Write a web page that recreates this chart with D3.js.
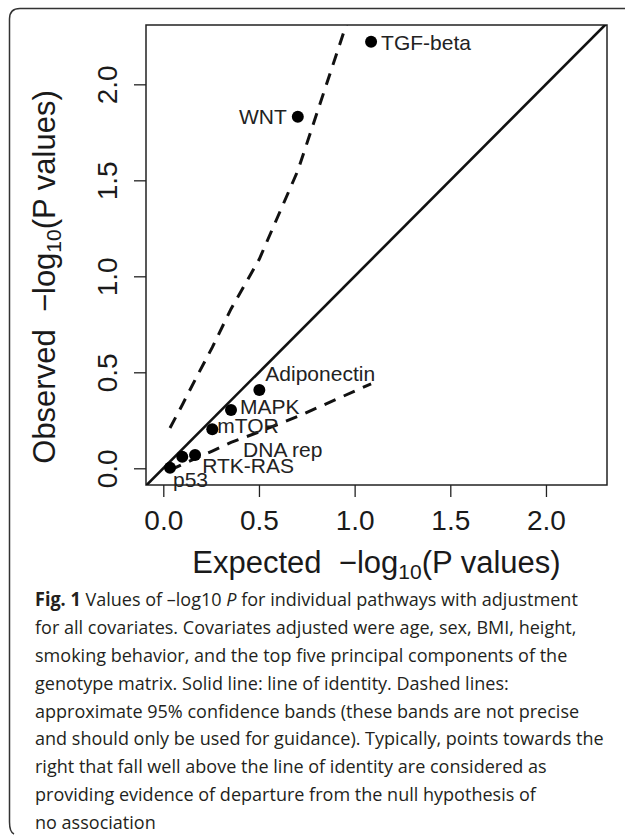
<!DOCTYPE html>
<html>
<head>
<meta charset="utf-8">
<script src="https://cdn.jsdelivr.net/npm/d3@7"></script>
<style>
  body { margin: 0; background: #fff; }
  svg { display: block; }
</style>
</head>
<body>
<svg id="chart" width="625" height="835"></svg>
<script>
// pathway QQ plot: observed vs expected -log10(P)
const pathways = ['TGF-beta', 'WNT', 'Adiponectin', 'MAPK', 'mTOR', 'DNA rep', 'RTK-RAS', 'p53']
const expected = [1.086, 0.703, 0.502, 0.354, 0.256, 0.166, 0.099, 0.035]
const observed = [2.222, 1.831, 0.408, 0.304, 0.203, 0.069, 0.060, 0.003]
const bandUpper = [2.70, 1.55, 1.09, 0.83, 0.63, 0.46, 0.33, 0.21]
const bandLower = [0.44, 0.27, 0.19, 0.135, 0.09, 0.05, 0.02, -0.01]
const ticks = [0, 0.5, 1.0, 1.5, 2.0]
const captionLines = [
  'for all covariates. Covariates adjusted were age, sex, BMI, height,',
  'smoking behavior, and the top five principal components of the',
  'genotype matrix. Solid line: line of identity. Dashed lines:',
  'approximate 95% confidence bands (these bands are not precise',
  'and should only be used for guidance). Typically, points towards the',
  'right that fall well above the line of identity are considered as',
  'providing evidence of departure from the null hypothesis of',
  'no association'
]

// label offsets from each point (px): dx, dy to baseline, anchor
const labelPlacement = {
  'TGF-beta': [10, 8, 'start'],
  'WNT': [-11, 7, 'end'],
  'Adiponectin': [6, -9, 'start'],
  'MAPK': [9, 4, 'start'],
  'mTOR': [5, 4, 'start'],
  'DNA rep': [48, 2, 'start'],
  'RTK-RAS': [20, 16, 'start'],
  'p53': [3, 19, 'start']
}

const box = { left: 146, right: 607, top: 25, bottom: 485 }
const svg = d3.select('#chart')

const x = d3.scaleLinear().domain([-0.0904, 2.319]).range([box.left, box.right])
const y = d3.scaleLinear().domain([-0.087, 2.309]).range([box.bottom, box.top])

// outer frame, open on the right
svg.append('path')
  .attr('d', 'M625,8.5 L20,8.5 Q9.5,8.5 9.5,19 L9.5,822 Q9.5,832 14,834')
  .attr('fill', 'none')
  .attr('stroke', '#333')
  .attr('stroke-width', 1.5)

svg.append('clipPath').attr('id', 'plotclip')
  .append('rect')
  .attr('x', box.left).attr('y', box.top)
  .attr('width', box.right - box.left).attr('height', box.bottom - box.top)

const axisFont = 'Liberation Sans, Arial, sans-serif'

// x axis
const xAxis = svg.append('g')
  .attr('transform', `translate(0,${box.bottom})`)
  .call(d3.axisBottom(x).tickValues(ticks).tickSize(12).tickFormat(d3.format('.1f')))
xAxis.select('.domain').remove()
xAxis.selectAll('line').attr('stroke', '#222').attr('stroke-width', 1.3)
xAxis.selectAll('text')
  .attr('y', 45).attr('dy', null)
  .attr('fill', '#1a1a1a')
  .style('font-family', axisFont).style('font-size', '28px')

// y axis, labels rotated like R
const yAxis = svg.append('g')
  .attr('transform', `translate(${box.left},0)`)
  .call(d3.axisLeft(y).tickValues(ticks).tickSize(12).tickFormat(d3.format('.1f')))
yAxis.select('.domain').remove()
yAxis.selectAll('line').attr('stroke', '#222').attr('stroke-width', 1.3)
yAxis.selectAll('text')
  .attr('x', null).attr('dy', null).attr('y', null)
  .attr('transform', 'translate(-29,0) rotate(-90)')
  .attr('text-anchor', 'middle')
  .attr('fill', '#1a1a1a')
  .style('font-family', axisFont).style('font-size', '28px')

// plot box
svg.append('rect')
  .attr('x', box.left).attr('y', box.top)
  .attr('width', box.right - box.left).attr('height', box.bottom - box.top)
  .attr('fill', 'none').attr('stroke', '#222').attr('stroke-width', 1.5)

const plot = svg.append('g').attr('clip-path', 'url(#plotclip)')

// identity line
plot.append('line')
  .attr('x1', x(-0.1)).attr('y1', y(-0.1))
  .attr('x2', x(2.4)).attr('y2', y(2.4))
  .attr('stroke', '#111').attr('stroke-width', 2.6)

// confidence bands
const band = d3.line().x(d => x(d[0])).y(d => y(d[1]))
;[bandUpper, bandLower].forEach(b => {
  const pts = expected.map((e, i) => [e, b[i]]).reverse()
  plot.append('path')
    .attr('d', band(pts))
    .attr('fill', 'none')
    .attr('stroke', '#111')
    .attr('stroke-width', 3)
    .attr('stroke-dasharray', '12,9')
})

// points
svg.append('g').selectAll('circle')
  .data(pathways)
  .join('circle')
  .attr('cx', (d, i) => x(expected[i]))
  .attr('cy', (d, i) => y(observed[i]))
  .attr('r', 6)
  .attr('fill', '#000')

// point labels
svg.append('g').selectAll('text')
  .data(pathways)
  .join('text')
  .attr('x', (d, i) => x(expected[i]) + labelPlacement[d][0])
  .attr('y', (d, i) => y(observed[i]) + labelPlacement[d][1])
  .attr('text-anchor', d => labelPlacement[d][2])
  .attr('fill', '#222')
  .style('font-family', axisFont).style('font-size', '21px')
  .text(d => d)

// axis titles (R plotmath style)
const addTitle = (sel, word) => {
  sel.append('tspan').text(word + ' \u00a0\u2212log')
  sel.append('tspan').attr('dy', 6).style('font-size', '21px').text('10')
  sel.append('tspan').attr('dy', -6).text('(P values)')
}
const xTitle = svg.append('text')
  .attr('x', (box.left + box.right) / 2).attr('y', 573)
  .attr('text-anchor', 'middle')
  .attr('fill', '#1a1a1a')
  .style('font-family', axisFont).style('font-size', '31px')
addTitle(xTitle, 'Expected')

const yTitle = svg.append('text')
  .attr('transform', 'translate(55,277) rotate(-90)')
  .attr('text-anchor', 'middle')
  .attr('fill', '#1a1a1a')
  .style('font-family', axisFont).style('font-size', '31px')
addTitle(yTitle, 'Observed')

// caption
const capFont = 'Open Sans, Noto Sans, sans-serif'
const cap = svg.append('g')
  .attr('fill', '#231f20')
  .style('font-family', capFont).style('font-size', '19px')

const first = cap.append('text').attr('x', 35).attr('y', 606)
first.append('tspan').style('font-weight', 'bold').text('Fig. 1')
first.append('tspan').text(' Values of \u2013log10 ')
first.append('tspan').style('font-style', 'italic').text('P')
first.append('tspan').text(' for individual pathways with adjustment')

cap.selectAll('text.line')
  .data(captionLines)
  .join('text')
  .attr('class', 'line')
  .attr('x', 35)
  .attr('y', (d, i) => 606 + (i + 1) * 27.9)
  .text(d => d)

// the journal face is narrower than Open Sans: squeeze so the longest line ends near x=604
const widest = d3.max(cap.selectAll('text').nodes(), n => n.getComputedTextLength())
const squeeze = 569 / widest
cap.attr('transform', `translate(35,0) scale(${squeeze},1) translate(-35,0)`)
</script>
</body>
</html>
